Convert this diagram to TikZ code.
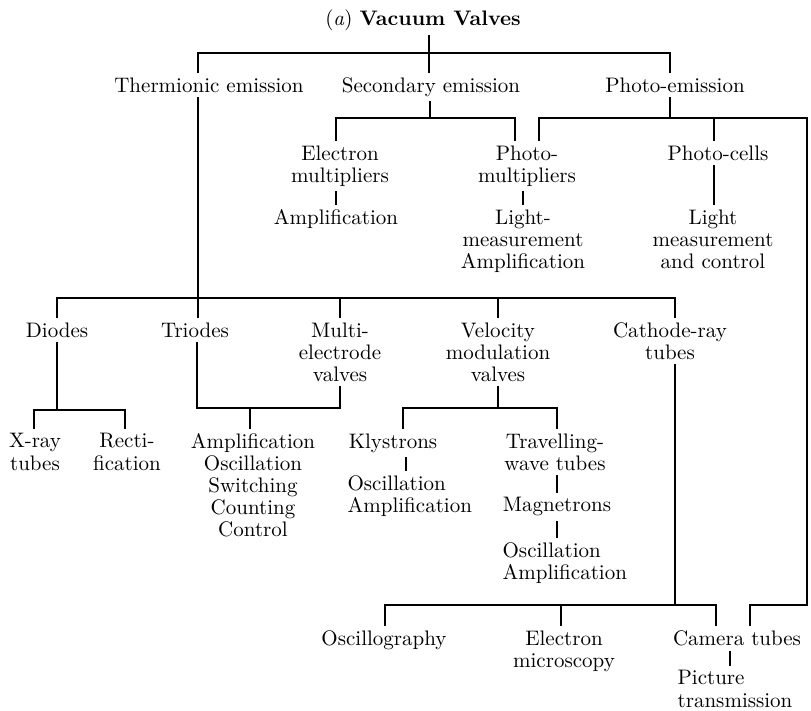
\documentclass[tikz,border=0pt]{standalone}

\begin{document}
\begin{tikzpicture}[
  x=0.476pt, y=-0.476pt,
  font=\fontsize{10pt}{10.5pt}\selectfont,
  item/.style={anchor=north, align=center, inner sep=2pt},
  itemleft/.style={anchor=north west, align=left, inner sep=2pt},
  link/.style={line width=0.9pt}
]
\useasboundingbox (0,0) rectangle (811,710);

% Title and first level.
\node[item] (title) at (423,5) {(\textit{a}) \textbf{Vacuum Valves}};
\node[item] (therm) at (209,73) {Thermionic emission};
\node[item] (second) at (431,73) {Secondary emission};
\node[item] (phem) at (675,73) {Photo-emission};

% Secondary and photo-emission devices.
\node[item] (elmult) at (340,141) {Electron\\multipliers};
\node[item] (phmult) at (527,141) {Photo-\\multipliers};
\node[item] (phcell) at (718,141) {Photo-cells};
\node[item] (elamp) at (336,205) {Amplification};
\node[item] (lightamp) at (523,205) {Light-\\measurement\\Amplification};
\node[item] (lightctl) at (713,205) {Light\\measurement\\and control};

% Thermionic valves.
\node[item] (diodes) at (57,318) {Diodes};
\node[item] (triodes) at (195,318) {Triodes};
\node[item] (multi) at (340,318) {Multi-\\electrode\\valves};
\node[item] (velo) at (498,318) {Velocity\\modulation\\valves};
\node[item] (crt) at (670,318) {Cathode-ray\\tubes};

\node[item] (xray) at (35,429) {X-ray\\tubes};
\node[item] (recti) at (127,429) {Recti-\\fication};
\node[item] (trlist) at (253,429)
  {Amplification\\Oscillation\\Switching\\Counting\\Control};
\node[item] (klys) at (393,429) {Klystrons};
\node[itemleft] (klysuse) at (343,471) {Oscillation\\Amplification};
\node[item] (twt) at (555,429) {Travelling-\\wave tubes};
\node[item] (magn) at (557,493) {Magnetrons};
\node[itemleft] (magnuse) at (498,538) {Oscillation\\Amplification};

% Cathode-ray tube uses.
\node[item] (oscg) at (384,626) {Oscillography};
\node[item] (elmic) at (564,626) {Electron\\microscopy};
\node[item] (camera) at (737,626) {Camera tubes};
\node[itemleft] (pictx) at (673,666) {Picture\\transmission};

% Bar points.
\coordinate (b0l) at (198,53);
\coordinate (b0m) at (429,53);
\coordinate (b0r) at (670,53);
\coordinate (b1l) at (336,118);
\coordinate (b1m) at (430,118);
\coordinate (b1r) at (515,118);
\coordinate (b2l) at (539,118);
\coordinate (b2m) at (670,118);
\coordinate (b2c) at (714,118);
\coordinate (b2r) at (807,118);
\coordinate (b2d) at (807,605);
\coordinate (b2e) at (750,605);
\coordinate (b3l) at (57,298);
\coordinate (b3r) at (675,298);
\coordinate (b4l) at (34,410);
\coordinate (b4r) at (125,410);
\coordinate (b5l) at (197,408);
\coordinate (b5m) at (250,408);
\coordinate (b5r) at (340,408);
\coordinate (b6l) at (403,408);
\coordinate (b6r) at (557,408);
\coordinate (b7l) at (385,605);
\coordinate (b7m) at (561,605);
\coordinate (b7c) at (675,605);
\coordinate (b7r) at (716,605);

% Top bracket.
\draw[link] (title.south -| b0m) -- (second.north -| b0m);
\draw[link] (therm.north -| b0l) -- (b0l) -- (b0r) -- (phem.north -| b0r);
\draw[link] (therm.south -| b0l) -- (triodes.north -| b0l);

% Secondary emission.
\draw[link] (second.south -| b1m) -- (b1m);
\draw[link] (elmult.north -| b1l) -- (b1l) -- (b1r) -- (phmult.north -| b1r);
\draw[link] (elmult.south -| b1l) -- (elamp.north -| b1l);

% Photo-emission, with the long run down to camera tubes.
\draw[link] (phem.south -| b2m) -- (b2m);
\draw[link] (phmult.north -| b2l) -- (b2l) -- (b2r) -- (b2d) -- (b2e)
  -- (camera.north -| b2e);
\draw[link] (b2c) -- (phcell.north -| b2c);
\draw[link] (phmult.south -| lightamp.north) -- (lightamp.north);
\draw[link] (phcell.south -| b2c) -- (lightctl.north -| b2c);

% Thermionic bracket.
\draw[link] (diodes.north -| b3l) -- (b3l) -- (b3r) -- (crt.north -| b3r);
\draw[link] (multi.north) -- (multi.north |- b3l);
\draw[link] (velo.north) -- (velo.north |- b3l);

\draw[link] (diodes.south) -- (diodes.south |- b4l);
\draw[link] (xray.north -| b4l) -- (b4l) -- (b4r) -- (recti.north -| b4r);

\draw[link] (triodes.south -| b5l) -- (b5l) -- (b5r) -- (multi.south -| b5r);
\draw[link] (b5m) -- (trlist.north -| b5m);

\draw[link] (velo.south) -- (velo.south |- b6l);
\draw[link] (klys.north -| b6l) -- (b6l) -- (b6r) -- (twt.north -| b6r);
\draw[link] ([xshift=6pt]klys.south) -- ([xshift=6pt]klys.south |- klysuse.north);
\draw[link] (twt.south -| magn.north) -- (magn.north);
\draw[link] (magn.south) -- (magn.south |- magnuse.north);

% Cathode-ray bracket.
\draw[link] (crt.south -| b7c) -- (b7c);
\draw[link] (oscg.north -| b7l) -- (b7l) -- (b7r) -- (camera.north -| b7r);
\draw[link] (b7m) -- (elmic.north -| b7m);
\draw[link] ([xshift=-3.3pt]camera.south) -- ([xshift=-3.3pt]camera.south |- pictx.north);

\end{tikzpicture}
\end{document}
